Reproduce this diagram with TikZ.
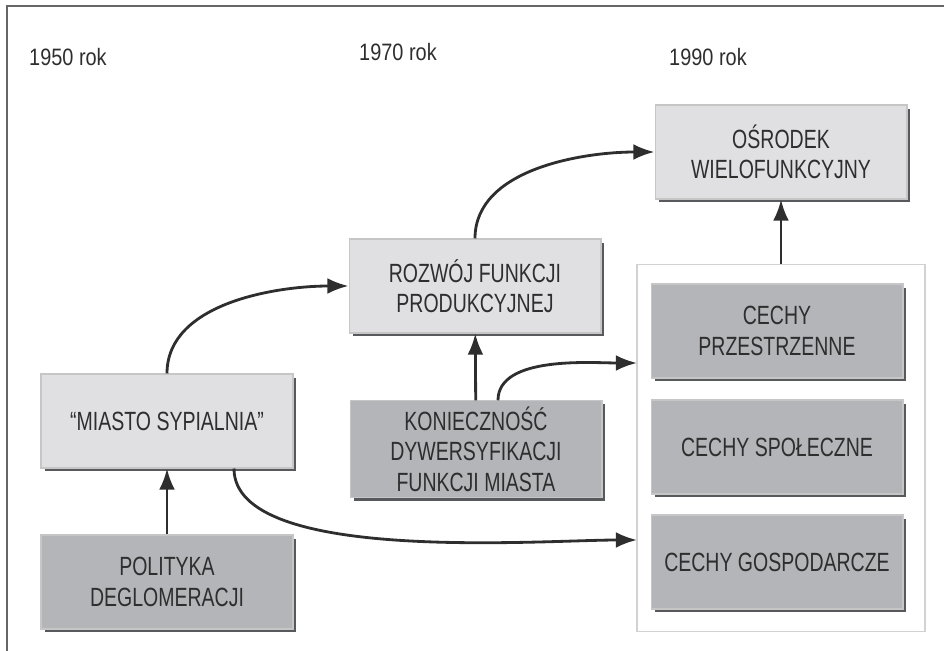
\documentclass[tikz,border=0pt]{standalone}
\usepackage{fontspec}
\setmainfont[FakeStretch=0.74]{Liberation Sans}
\newfontfamily\yearfont[FakeStretch=0.84]{Liberation Sans}
\usetikzlibrary{arrows.meta,shadows}
\definecolor{lightbox}{HTML}{E0E0E2}
\definecolor{darkbox}{HTML}{B4B5B9}
\definecolor{shade}{HTML}{58595C}
\definecolor{ink}{HTML}{2E2E2E}
\begin{document}
\begin{tikzpicture}[x=0.02cm,y=-0.02cm,
    every node/.style={anchor=center,text=ink,font=\fontsize{15}{17.3}\selectfont},
    year/.style={anchor=west,font=\yearfont\fontsize{13.5}{15}\selectfont},
    box/.style={draw=gray!45,line width=0.6pt,minimum width=5.04cm,minimum height=1.88cm,align=center,
      drop shadow={shadow xshift=0.07cm,shadow yshift=-0.07cm,fill=shade,opacity=1}},
    lbox/.style={box,fill=lightbox},
    dbox/.style={box,fill=darkbox},
    arr/.style={->,>={Latex[length=12pt,width=9pt]},draw=ink,line width=1.6pt}]
  \useasboundingbox (0,0) rectangle (944,651);
  \draw[gray!80!black,line width=1.2pt] (7,651) -- (7,6) -- (944,6);
  % years
  \node[year] (y50) at (23,57) {1950 rok};
  \node[year] (y70) at (353,52) {1970 rok};
  \node[year] (y90) at (663,57) {1990 rok};
  % boxes
  \node[lbox] (osr) at (781,152) {OŚRODEK\\WIELOFUNKCYJNY};
  \node[lbox] (roz) at (475,286) {ROZWÓJ FUNKCJI\\PRODUKCYJNEJ};
  \node[lbox] (mia) at (167,421) {“MIASTO SYPIALNIA”};
  \node[dbox] (pol) at (167,582) {POLITYKA\\DEGLOMERACJI};
  \node[dbox] (kon) at (476,449) {KONIECZNOŚĆ\\DYWERSYFIKACJI\\FUNKCJI MIASTA};
  \node[draw=gray!35,fill=white,line width=0.8pt,minimum width=5.76cm,minimum height=7.34cm] (cec) at (781,448) {};
  \node[dbox] (cpr) at (777,331) {CECHY\\PRZESTRZENNE};
  \node[dbox] (csp) at (777,447) {CECHY SPOŁECZNE};
  \node[dbox] (cgo) at (777,562) {CECHY GOSPODARCZE};
  \coordinate (inP) at (637,363);
  \coordinate (inG) at (637,540);
  % arrows
  \draw[arr] (pol) -- (mia);
  \draw[arr] (kon) -- (roz);
  \draw[arr] (cec) -- (osr);
  \draw[arr] (mia.north) to[out=90,in=180,looseness=0.9] (roz.west);
  \draw[arr] (roz.north) to[out=90,in=180,looseness=0.9] (osr.west);
  \draw[arr] ([xshift=0.44cm]kon.north) to[out=90,in=180,looseness=0.8] (inP);
  \draw[arr] ([xshift=1.34cm]mia.south) to[out=-90,in=180,looseness=0.6] (inG);
\end{tikzpicture}
\end{document}
